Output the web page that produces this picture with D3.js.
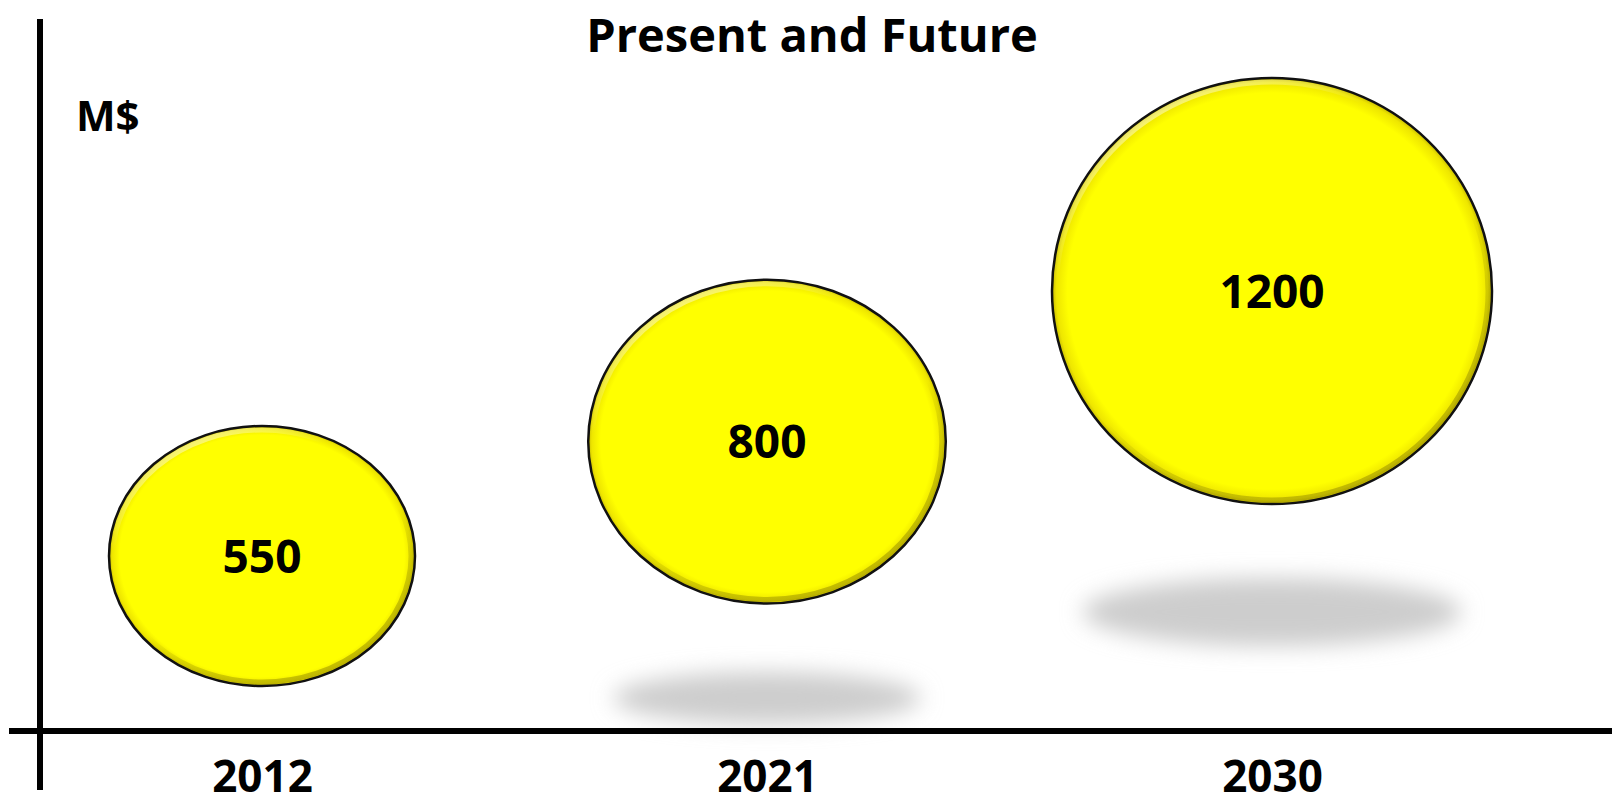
<!DOCTYPE html>
<html>
<head>
<meta charset="utf-8">
<script src="https://cdn.jsdelivr.net/npm/d3@7"></script>
<style>
  html, body { margin: 0; padding: 0; background: #fff; }
  svg { display: block; }
  text { font-family: "Open Sans", "Noto Sans", sans-serif; font-weight: bold; fill: #000; }
</style>
</head>
<body>
<script>
// ---- data ----
const title = "Present and Future";
const unitLabel = "M$";
const years = [2012, 2021, 2030];
const values = [550, 800, 1200];

// ---- layout ----
const W = 1613, H = 806;
const svg = d3.select("body").append("svg").attr("width", W).attr("height", H);

const x = d3.scaleLinear().domain([2012, 2030]).range([262, 1272]);
const y = d3.scaleSqrt().domain([550, 1200]).range([556, 291]);
const rx = d3.scaleLinear().domain([550, 1200]).range([153, 220]);
const ry = d3.scaleLinear().domain([550, 1200]).range([130, 213]);
const shadowY = d3.scaleLinear().domain([800, 1200]).range([698, 612]);
const axisY = 731;

const data = years.map((yr, i) => ({ year: yr, value: values[i] }));

const defs = svg.append("defs");
const grad = defs.append("radialGradient").attr("id", "ball")
  .attr("cx", "50%").attr("cy", "50%").attr("r", "50%");
grad.append("stop").attr("offset", "0%").attr("stop-color", "#ffff00");
grad.append("stop").attr("offset", "93%").attr("stop-color", "#ffff00");
grad.append("stop").attr("offset", "98%").attr("stop-color", "#eee600");
grad.append("stop").attr("offset", "100%").attr("stop-color", "#c8bc00");

const hl = defs.append("linearGradient").attr("id", "rim")
  .attr("x1", "0").attr("y1", "0").attr("x2", "0.6").attr("y2", "1");
hl.append("stop").attr("offset", "0%").attr("stop-color", "#ffffff").attr("stop-opacity", 0.8);
hl.append("stop").attr("offset", "35%").attr("stop-color", "#ffffff").attr("stop-opacity", 0);
hl.append("stop").attr("offset", "65%").attr("stop-color", "#000000").attr("stop-opacity", 0);
hl.append("stop").attr("offset", "100%").attr("stop-color", "#6a6000").attr("stop-opacity", 0.35);

const blur = defs.append("filter").attr("id", "blur")
  .attr("x", "-50%").attr("y", "-100%").attr("width", "200%").attr("height", "300%");
blur.append("feGaussianBlur").attr("stdDeviation", 11);

// shadows for floating bubbles
const floating = data.filter(d => axisY - (y(d.value) + ry(d.value)) > 60);
svg.selectAll("ellipse.shadow").data(floating).join("ellipse")
  .attr("class", "shadow")
  .attr("cx", d => x(d.year))
  .attr("cy", d => shadowY(d.value))
  .attr("rx", d => rx(d.value) * 0.86)
  .attr("ry", d => ry(d.value) * 0.16)
  .attr("fill", "#cdcdcd")
  .attr("filter", "url(#blur)");

// axes lines
svg.append("line").attr("x1", 40).attr("x2", 40).attr("y1", 19).attr("y2", 790)
  .attr("stroke", "#000").attr("stroke-width", 6);
svg.append("line").attr("x1", 9).attr("x2", 1612).attr("y1", axisY).attr("y2", axisY)
  .attr("stroke", "#000").attr("stroke-width", 6);

// x axis labels
const xAxis = d3.axisBottom(x).tickValues(years).tickFormat(d3.format("d")).tickSize(0).tickPadding(0);
const gx = svg.append("g").attr("transform", `translate(0,${axisY})`).call(xAxis);
gx.select(".domain").remove();
gx.selectAll("text")
  .attr("dy", null).attr("y", 61)
  .style("font-family", "'Open Sans', 'Noto Sans', sans-serif")
  .style("font-weight", "bold").style("font-size", "44px").attr("fill", "#000");

// bubbles
const g = svg.selectAll("g.bubble").data(data).join("g").attr("class", "bubble");
g.append("ellipse")
  .attr("cx", d => x(d.year)).attr("cy", d => y(d.value))
  .attr("rx", d => rx(d.value)).attr("ry", d => ry(d.value))
  .attr("fill", "url(#ball)");
g.append("ellipse")
  .attr("cx", d => x(d.year)).attr("cy", d => y(d.value))
  .attr("rx", d => rx(d.value) - 4).attr("ry", d => ry(d.value) - 4)
  .attr("fill", "none").attr("stroke", "url(#rim)").attr("stroke-width", 5);
g.append("ellipse")
  .attr("cx", d => x(d.year)).attr("cy", d => y(d.value))
  .attr("rx", d => rx(d.value)).attr("ry", d => ry(d.value))
  .attr("fill", "none").attr("stroke", "#111").attr("stroke-width", 2.5);
g.append("text")
  .attr("x", d => x(d.year)).attr("y", d => y(d.value))
  .attr("text-anchor", "middle").attr("dy", "0.36em")
  .style("font-size", "46px")
  .text(d => d.value);

// title and unit
svg.append("text").attr("x", 812).attr("y", 52).attr("text-anchor", "middle")
  .style("font-size", "47px").text(title);
svg.append("text").attr("x", 76).attr("y", 131)
  .style("font-size", "42px").text(unitLabel);
</script>
</body>
</html>
